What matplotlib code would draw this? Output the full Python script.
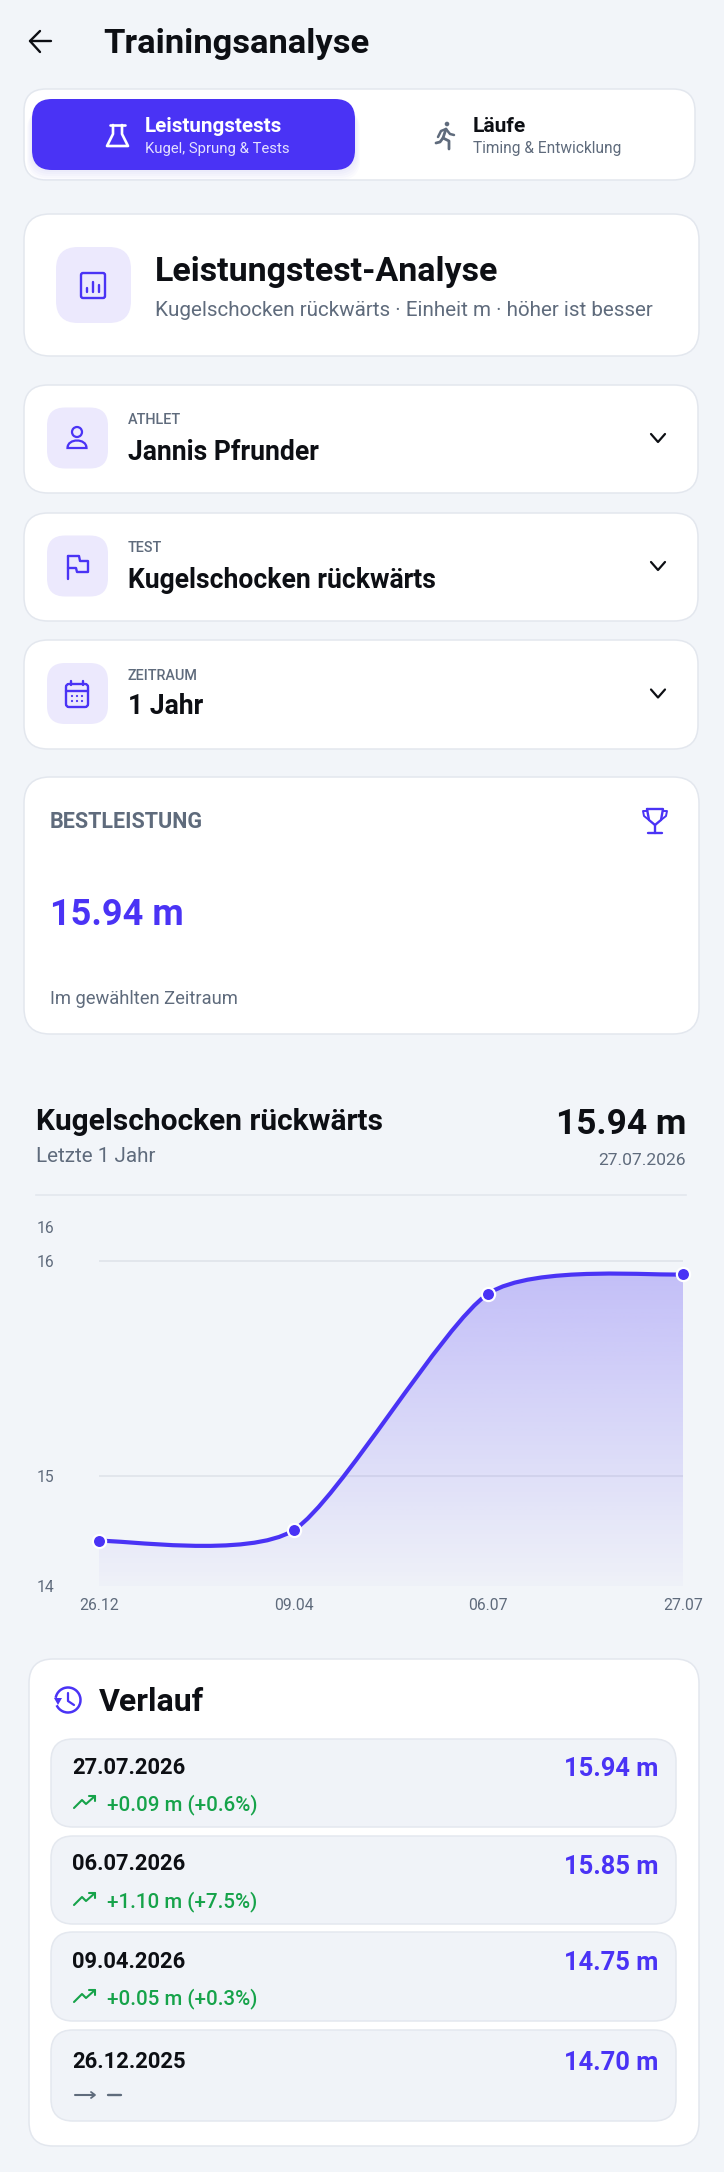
import numpy as np
import matplotlib
matplotlib.use("Agg")
import matplotlib.pyplot as plt
from matplotlib.patches import FancyBboxPatch, PathPatch, Circle, Polygon, Arc
from matplotlib.path import Path

plt.rcParams['font.family'] = ['Roboto', 'DejaVu Sans']

# chart data
short_dates = ["26.12", "09.04", "06.07", "27.07"]
values = [14.70, 14.75, 15.85, 15.94]
y_min = 14.49
y_max = 16.16
y_ticks = [y_min, 15, 16, y_max]
y_tick_labels = ["14", "15", "16", "16"]
grid_values = [15, 16]

# history rows, newest first
full_dates = ["27.07.2026", "06.07.2026", "09.04.2026", "26.12.2025"]
row_values = [15.94, 15.85, 14.75, 14.70]
row_deltas = ["+0.09 m (+0.6%)", "+1.10 m (+7.5%)", "+0.05 m (+0.3%)", "—"]

selector_labels = ["ATHLET", "TEST", "ZEITRAUM"]
selector_values = ["Jannis Pfrunder", "Kugelschocken rückwärts", "1 Jahr"]

BG = "#f2f5f9"
PRIMARY = "#4a33f5"
INK = "#0d0f14"
GREY = "#5f6b7c"
BORDER = "#e3e7ee"
TILE = "#ece9fd"
GREEN = "#16a34a"
ROW = "#f0f3f8"

W, H = 724, 2172
fig = plt.figure(figsize=(W / 100, H / 100), dpi=100, facecolor=BG)

# whole page in pixel coordinates
ui = fig.add_axes([0, 0, 1, 1], zorder=0)
ui.set_xlim(0, W)
ui.set_ylim(H, 0)
ui.axis("off")


def card(x0, y0, x1, y1, r=24, fc="white", ec=BORDER, lw=1.1, z=1, alpha=None):
    ui.add_patch(FancyBboxPatch((x0, y0), x1 - x0, y1 - y0,
                                boxstyle=f"round,pad=0,rounding_size={r}",
                                fc=fc, ec=ec, lw=lw, zorder=z, alpha=alpha))


def label(x, y, s, size, color=INK, weight="normal", ha="left"):
    ui.text(x, y, s, fontsize=size, color=color, fontweight=weight, ha=ha,
            va="center_baseline", zorder=5)


def stroke(xs, ys, color=PRIMARY, lw=1.7):
    ui.plot(xs, ys, color=color, lw=lw, solid_capstyle="round",
            solid_joinstyle="round", zorder=5)


def chevron(cx, cy):
    stroke([cx - 7, cx, cx + 7], [cy - 4, cy + 4, cy - 4], INK, 1.6)


# header
stroke([51, 30], [41, 41], INK, 1.7)
stroke([40, 30, 40], [31, 41, 52], INK, 1.7)
label(103, 41, "Trainingsanalyse", 24.8, weight="bold")

# segmented switch
card(24, 89, 695, 180, r=22)
for i in range(6):
    card(32 - i, 105 + i, 355 + i, 170 + i * 2, r=20, fc=PRIMARY, ec="none", lw=0, z=1.5, alpha=0.02)
card(32, 99, 355, 170, r=20, fc=PRIMARY, ec="none", lw=0, z=2)
label(145, 125, "Leistungstests", 14.9, "white", "bold")
label(145, 147, "Kugel, Sprung & Tests", 10.7, "#e4e1ff")
label(473, 125, "Läufe", 15, INK, "bold")
label(473, 147, "Timing & Entwicklung", 11.2, GREY)
# flask
stroke([110, 125], [125, 125], "white", 1.9)
stroke([113, 113, 107, 128, 122, 122], [125, 134, 146, 146, 134, 125], "white", 1.9)
# runner
ui.add_patch(Circle((447, 124), 2.3, fc=GREY, ec="none", zorder=5))
stroke([446, 443, 440, 436], [129, 138, 142, 143], GREY, 2.0)
stroke([443, 449, 449], [138, 141, 149], GREY, 2.0)
stroke([438, 441, 446, 450, 454], [137, 131, 129, 134, 135], GREY, 1.8)

# analysis card
card(24, 214, 699, 356, r=26)
card(56, 247, 131, 323, r=22, fc=TILE, ec="none", lw=0, z=2)
card(81, 273, 105, 298, r=2, fc="none", ec=PRIMARY, lw=1.7, z=5)
stroke([87, 87], [288, 292], PRIMARY, 1.7)
stroke([93, 93], [282, 292], PRIMARY, 1.7)
stroke([99, 99], [285, 292], PRIMARY, 1.7)
label(155, 269, "Leistungstest-Analyse", 24.5, weight="bold")
label(155, 309, "Kugelschocken rückwärts · Einheit m · höher ist besser", 14.9, GREY)

# selectors
card_tops = [385, 513, 640]
card_bots = [493, 621, 749]
for i in range(3):
    top, bot = card_tops[i], card_bots[i]
    mid = (top + bot) / 2 - 1
    card(24, top, 698, bot, r=24)
    card(47, mid - 30.5, 108, mid + 30.5, r=18, fc=TILE, ec="none", lw=0, z=2)
    label(128, top + 34, selector_labels[i], 10.4, GREY, "medium")
    label(128, top + 64, selector_values[i], 19.1, INK, "bold")
    chevron(658, mid)
# person
ui.add_patch(Circle((77, 432), 5, fc="none", ec=PRIMARY, lw=1.6, zorder=5))
ui.add_patch(PathPatch(Path([(67.5, 448), (67.5, 438), (86.5, 438), (86.5, 448), (67.5, 448)],
                            [Path.MOVETO, Path.CURVE4, Path.CURVE4, Path.CURVE4, Path.CLOSEPOLY]),
                       fc="none", ec=PRIMARY, lw=1.6, zorder=5))
# flag
stroke([68, 68], [579, 556], PRIMARY, 1.7)
stroke([68, 79, 80, 88, 88, 77, 76, 68], [556, 556, 561, 561, 572, 572, 568, 568], PRIMARY, 1.7)
# calendar
card(66, 684, 88, 707, r=3, fc="none", ec=PRIMARY, lw=1.7, z=5)
stroke([66, 88], [691, 691], PRIMARY, 1.7)
stroke([71, 71], [681, 685], PRIMARY, 1.7)
stroke([83, 83], [681, 685], PRIMARY, 1.7)
for cx in [72, 77, 82]:
    for cy in [696, 701]:
        ui.add_patch(Circle((cx, cy), 1.1, fc=PRIMARY, ec="none", zorder=5))

# best value card
card(24, 777, 699, 1034, r=26)
label(50, 820, "BESTLEISTUNG", 15.5, GREY, "bold")
label(50, 911, f"{max(values):.2f} m", 26, PRIMARY, "bold")
label(50, 997, "Im gewählten Zeitraum", 13.2, GREY)
# trophy
stroke([647, 663, 661, 655, 649, 647], [809, 809, 820, 825, 820, 809], PRIMARY, 1.7)
stroke([647, 643, 644, 649], [811, 811, 816, 820], PRIMARY, 1.4)
stroke([663, 667, 666, 661], [811, 811, 816, 820], PRIMARY, 1.4)
stroke([655, 655], [825, 833], PRIMARY, 1.7)
stroke([648, 662], [833, 833], PRIMARY, 1.7)

# chart heading
label(36, 1119, "Kugelschocken rückwärts", 21.5, weight="bold")
label(36, 1154, "Letzte 1 Jahr", 14.9, GREY)
label(686, 1121, f"{values[-1]:.2f} m", 25.4, weight="bold", ha="right")
label(686, 1159, full_dates[0], 12.6, GREY, ha="right")
ui.plot([36, 686], [1195, 1195], color=BORDER, lw=1.2, zorder=2)

# chart area, placed so the values land on the page pixels
chart_left, chart_right, chart_top, chart_bot = 99, 683, 1227, 1586
ax = fig.add_axes([chart_left / W, 1 - chart_bot / H, (chart_right - chart_left) / W, (chart_bot - chart_top) / H], zorder=1)
ax.patch.set_visible(False)
for s in ax.spines.values():
    s.set_visible(False)

xs = list(range(len(values)))
for g in grid_values:
    ax.plot([xs[0], xs[-1]], [g, g], color="#dfe3ea", lw=1.2, zorder=1)

# smooth curve through the points, control points taken from the neighbours
smooth = 0.23
tx = []
ty = []
for i in xs:
    p = max(i - 1, 0)
    n = min(i + 1, xs[-1])
    tx.append((xs[n] - xs[p]) / 2 * smooth)
    ty.append((values[n] - values[p]) / 2 * smooth)
verts = [(xs[0], values[0])]
codes = [Path.MOVETO]
for i in xs[1:]:
    verts += [(xs[i - 1] + tx[i - 1], values[i - 1] + ty[i - 1]),
              (xs[i] - tx[i], values[i] - ty[i]),
              (xs[i], values[i])]
    codes += [Path.CURVE4] * 3
curve = Path(verts, codes)
area = Path(verts + [(xs[-1], y_min), (xs[0], y_min), (xs[0], values[0])],
            codes + [Path.LINETO, Path.LINETO, Path.LINETO])

# vertical fade below the line
grad = np.zeros((256, 1, 4))
grad[..., :3] = matplotlib.colors.to_rgb(PRIMARY)
grad[:, 0, 3] = np.linspace(0.28, 0.02, 256)
img = ax.imshow(grad, extent=[xs[0], xs[-1], y_min, values[-1]], origin="upper", aspect="auto", zorder=2)
img.set_clip_path(PathPatch(area, transform=ax.transData))

ax.add_patch(PathPatch(curve, fc="none", ec=PRIMARY, lw=3.0, capstyle="round", zorder=3))
ax.plot(xs, values, "o", ms=9.5, mfc=PRIMARY, mec="white", mew=1.6, zorder=4, clip_on=False)

ax.set_xlim(xs[0], xs[-1])
ax.set_ylim(y_min, y_max)
ax.set_xticks(xs)
ax.set_xticklabels(short_dates, fontsize=11.3, color=GREY)
ax.set_yticks(y_ticks)
ax.set_yticklabels(y_tick_labels, fontsize=11.3, color=GREY)
ax.tick_params(axis="x", length=0, pad=9)
ax.tick_params(axis="y", length=0, pad=32)

# history card
card(29, 1659, 699, 2146, r=24)
label(99, 1699, "Verlauf", 23, weight="bold")
ui.add_patch(Arc((68, 1700), 25, 25, angle=0, theta1=-170, theta2=155, ec=PRIMARY, lw=1.8, zorder=5))
ui.add_patch(Polygon([(54, 1698), (62, 1698), (58, 1705)], fc=PRIMARY, ec="none", zorder=5))
stroke([68, 68, 74], [1693, 1701, 1705], PRIMARY, 1.6)

row_tops = [1739, 1836, 1932, 2030]
row_bots = [1827, 1924, 2021, 2121]
date_y = [1766, 1862, 1960, 2060]
value_y = [1767, 1864, 1961, 2061]
delta_y = [1802, 1899, 1996, 2095]
for i in range(4):
    card(51, row_tops[i], 676, row_bots[i], r=22, fc=ROW, ec="#e4e8ef", lw=1.1, z=2)
    label(72, date_y[i], full_dates[i], 15.8, INK, "bold")
    label(658, value_y[i], f"{row_values[i]:.2f} m", 18.4, PRIMARY, "bold", ha="right")
    d = delta_y[i]
    if i < 3:
        label(107, d, row_deltas[i], 14.8, GREEN, "medium")
        stroke([74, 82, 86, 95], [d + 6, d - 2, d + 2, d - 6], GREEN, 1.5)
        stroke([89, 95, 95], [d - 6, d - 6, d - 1], GREEN, 1.5)
    else:
        stroke([75, 94], [d, d], GREY, 1.5)
        stroke([91, 95, 91], [d - 3, d, d + 3], GREY, 1.3)
        stroke([108, 121], [d, d], GREY, 1.7)

fig.savefig("out.png", dpi=100, facecolor=BG)
